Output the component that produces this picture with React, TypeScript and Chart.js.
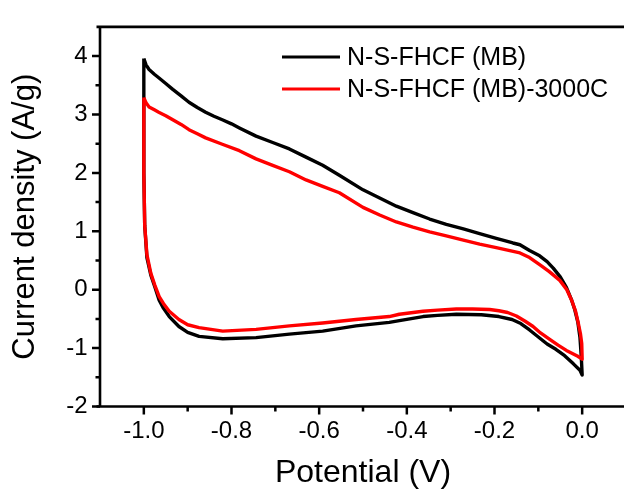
import React, { useEffect, useRef } from "react";
import { Chart, registerables } from "chart.js";

Chart.register(...registerables);

const seriesLabels = ["N-S-FHCF (MB)", "N-S-FHCF (MB)-3000C"];
const seriesColors = ["#000000", "#ff0000"];

const xTitle = "Potential (V)";
const yTitle = "Current density (A/g)";

const xMajorTicks = [-1.0, -0.8, -0.6, -0.4, -0.2, 0.0];
const xMinorTicks = [-0.9, -0.7, -0.5, -0.3, -0.1];
const yMajorTicks = [-2, -1, 0, 1, 2, 3, 4];
const yMinorTicks = [-1.5, -0.5, 0.5, 1.5, 2.5, 3.5];

// N-S-FHCF (MB): anodic (upper) branch then cathodic (lower) branch
const mbPotential = [
  -1.0, -0.995, -0.988, -0.976, -0.966, -0.95, -0.934, -0.915, -0.897, -0.878,
  -0.859, -0.84, -0.821, -0.8, -0.782, -0.744, -0.706, -0.668, -0.63, -0.592,
  -0.554, -0.5, -0.462, -0.424, -0.386, -0.348, -0.31, -0.271, -0.234, -0.196,
  -0.158, -0.142, -0.12, -0.097, -0.08, -0.066, -0.05, -0.036, -0.024, -0.017,
  -0.01, -0.005, -0.002, 0.0,
  -0.005, -0.02, -0.04, -0.06, -0.08, -0.1, -0.12, -0.14, -0.16, -0.19,
  -0.23, -0.287, -0.33, -0.363, -0.417, -0.44, -0.516, -0.592, -0.668, -0.744,
  -0.82, -0.874, -0.9, -0.92, -0.942, -0.955, -0.965, -0.975, -0.984, -0.993,
  -0.998, -1.0, -1.0,
];
const mbCurrent = [
  3.96, 3.85, 3.77, 3.69, 3.63, 3.53, 3.43, 3.32, 3.21, 3.12,
  3.04, 2.97, 2.91, 2.84, 2.77, 2.63, 2.52, 2.41, 2.27, 2.13,
  1.96, 1.71, 1.57, 1.43, 1.32, 1.21, 1.12, 1.04, 0.96, 0.88,
  0.8, 0.77, 0.67, 0.58, 0.48, 0.37, 0.22, 0.04, -0.18, -0.34,
  -0.55, -0.82, -1.15, -1.46,
  -1.38, -1.27, -1.13, -1.02, -0.93, -0.81, -0.69, -0.58, -0.51, -0.46,
  -0.43, -0.42, -0.44, -0.46, -0.53, -0.56, -0.62, -0.71, -0.76, -0.82,
  -0.84, -0.8, -0.73, -0.63, -0.46, -0.32, -0.18, 0.05, 0.25, 0.55,
  1.1, 2.0, 3.96,
];

// N-S-FHCF (MB)-3000C
const c3000Potential = [
  -1.0, -0.995, -0.988, -0.976, -0.966, -0.95, -0.934, -0.915, -0.897, -0.878,
  -0.859, -0.821, -0.782, -0.744, -0.706, -0.668, -0.63, -0.592, -0.554, -0.5,
  -0.462, -0.424, -0.386, -0.348, -0.31, -0.271, -0.234, -0.196, -0.16, -0.142,
  -0.12, -0.097, -0.075, -0.051, -0.035, -0.024, -0.015, -0.009, -0.004, -0.001,
  0.0,
  -0.01, -0.036, -0.055, -0.074, -0.095, -0.112, -0.13, -0.15, -0.17, -0.19,
  -0.211, -0.25, -0.287, -0.33, -0.363, -0.417, -0.44, -0.516, -0.592, -0.668,
  -0.744, -0.82, -0.874, -0.9, -0.92, -0.942, -0.955, -0.965, -0.975, -0.984,
  -0.993, -0.998, -1.0, -1.0,
];
const c3000Current = [
  3.29, 3.2, 3.13, 3.08, 3.04, 2.98, 2.91, 2.83, 2.74, 2.67,
  2.6, 2.49, 2.38, 2.24, 2.13, 2.02, 1.88, 1.77, 1.66, 1.41,
  1.28, 1.16, 1.07, 0.99, 0.92, 0.85, 0.78, 0.72, 0.66, 0.63,
  0.55, 0.43, 0.31, 0.16, 0.0, -0.18, -0.37, -0.57, -0.75, -0.92,
  -1.19,
  -1.14, -1.04, -0.95, -0.85, -0.74, -0.63, -0.54, -0.45, -0.39, -0.36,
  -0.34, -0.33, -0.33, -0.35, -0.37, -0.42, -0.46, -0.51, -0.57, -0.62,
  -0.68, -0.71, -0.65, -0.6, -0.51, -0.37, -0.24, -0.12, 0.08, 0.28,
  0.6, 1.1, 2.0, 3.29,
];

const FONT = "'Liberation Sans', Arial, Helvetica, sans-serif";

const toPoints = (xs: number[], ys: number[]) => xs.map((x, i) => ({ x, y: ys[i] }));

const axesPlugin = {
  id: "originAxes",
  afterDatasetsDraw(chart: any) {
    const { ctx, chartArea } = chart;
    const { left, right, top, bottom } = chartArea;
    const xs = chart.scales.x;
    const ys = chart.scales.y;
    ctx.save();
    ctx.strokeStyle = "#000";
    ctx.lineWidth = 2.6;
    ctx.lineCap = "butt";
    ctx.beginPath();
    ctx.moveTo(left, top - 1.3);
    ctx.lineTo(left, bottom + 1.3);
    ctx.moveTo(left - 3.5, bottom);
    ctx.lineTo(right, bottom);
    ctx.moveTo(left - 3.5, top);
    ctx.lineTo(right, top);
    ctx.stroke();

    ctx.lineWidth = 2.5;
    ctx.beginPath();
    yMajorTicks.forEach((v) => {
      const p = ys.getPixelForValue(v);
      ctx.moveTo(left - 8, p);
      ctx.lineTo(left, p);
    });
    yMinorTicks.forEach((v) => {
      const p = ys.getPixelForValue(v);
      ctx.moveTo(left - 4.5, p);
      ctx.lineTo(left, p);
    });
    xMajorTicks.forEach((v) => {
      const p = xs.getPixelForValue(v);
      ctx.moveTo(p, bottom);
      ctx.lineTo(p, bottom + 8);
    });
    xMinorTicks.forEach((v) => {
      const p = xs.getPixelForValue(v);
      ctx.moveTo(p, bottom);
      ctx.lineTo(p, bottom + 5);
    });
    ctx.stroke();
    ctx.restore();
  },
  afterDraw(chart: any) {
    const { ctx, chartArea } = chart;
    const { left, top } = chartArea;
    ctx.save();
    ctx.font = `25px ${FONT}`;
    ctx.textBaseline = "middle";
    ctx.textAlign = "left";
    chart.data.datasets.forEach((ds: any, i: number) => {
      const y = top + 30 + i * 32;
      ctx.strokeStyle = ds.borderColor;
      ctx.lineWidth = 3;
      ctx.beginPath();
      ctx.moveTo(left + 182, y);
      ctx.lineTo(left + 240, y);
      ctx.stroke();
      ctx.fillStyle = "#000";
      ctx.fillText(ds.label, left + 247, y + 1);
    });
    ctx.restore();
  },
};

export default function App() {
  const canvasRef = useRef<HTMLCanvasElement | null>(null);

  useEffect(() => {
    const canvas = canvasRef.current;
    if (!canvas) return;
    const chart = new Chart(canvas, {
      type: "scatter",
      data: {
        datasets: [
          {
            label: seriesLabels[0],
            data: toPoints(mbPotential, mbCurrent),
            borderColor: seriesColors[0],
            backgroundColor: seriesColors[0],
            borderWidth: 3.4,
            showLine: true,
            pointRadius: 0,
            tension: 0,
            borderJoinStyle: "round",
            order: 2,
          },
          {
            label: seriesLabels[1],
            data: toPoints(c3000Potential, c3000Current),
            borderColor: seriesColors[1],
            backgroundColor: seriesColors[1],
            borderWidth: 3.4,
            showLine: true,
            pointRadius: 0,
            tension: 0,
            borderJoinStyle: "round",
            order: 1,
          },
        ],
      },
      options: {
        animation: false,
        responsive: false,
        devicePixelRatio: 1,
        layout: { padding: { left: 0, right: 14, top: 14.5, bottom: 0 } },
        plugins: {
          legend: { display: false },
          tooltip: { enabled: false },
        },
        events: [],
        scales: {
          x: {
            type: "linear",
            min: -1.1,
            max: 0.1,
            grid: { display: false, drawTicks: false, tickLength: 0 },
            border: { display: false },
            afterBuildTicks: (scale: any) => {
              scale.ticks = xMajorTicks.map((v) => ({ value: v }));
            },
            afterFit: (scale: any) => {
              scale.height = 85.5;
            },
            ticks: {
              padding: 10,
              color: "#000",
              maxRotation: 0,
              autoSkip: false,
              font: { family: FONT, size: 24 },
              callback: (v: any) => Number(v).toFixed(1),
            },
            title: {
              display: true,
              text: xTitle,
              color: "#000",
              font: { family: FONT, size: 32 },
              padding: { top: 0, bottom: 0 },
            },
          },
          y: {
            type: "linear",
            min: -2,
            max: 4.5,
            grid: { display: false, drawTicks: false, tickLength: 0 },
            border: { display: false },
            afterBuildTicks: (scale: any) => {
              scale.ticks = yMajorTicks.map((v) => ({ value: v }));
            },
            afterFit: (scale: any) => {
              scale.width = 100;
            },
            ticks: {
              padding: 12.5,
              color: "#000",
              autoSkip: false,
              font: { family: FONT, size: 24 },
              callback: (v: any) => String(v),
            },
            title: {
              display: true,
              text: yTitle,
              color: "#000",
              font: { family: FONT, size: 31 },
              padding: { top: 7, bottom: 0 },
            },
          },
        },
      },
      plugins: [axesPlugin],
    } as any);
    return () => chart.destroy();
  }, []);

  return (
    <div
      style={{
        position: "fixed",
        left: 0,
        top: 0,
        width: 624,
        height: 492,
        overflow: "hidden",
        background: "#fff",
      }}
    >
      <canvas
        ref={canvasRef}
        width={640}
        height={492}
        style={{ width: 640, height: 492, display: "block" }}
      />
    </div>
  );
}
